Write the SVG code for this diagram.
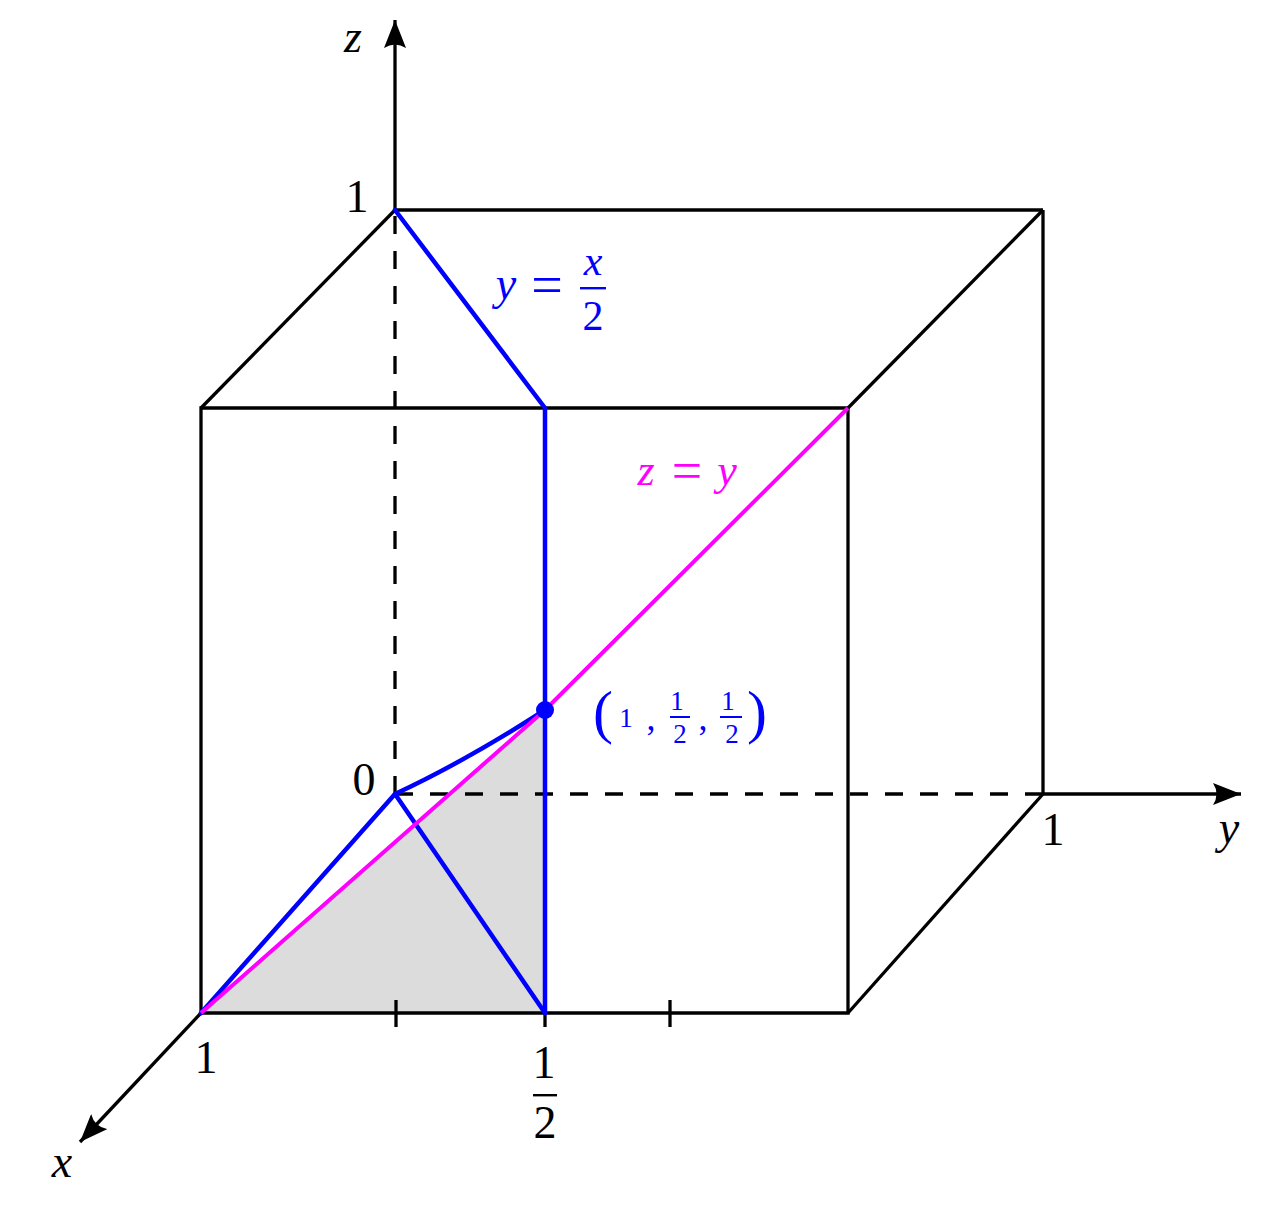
<svg xmlns="http://www.w3.org/2000/svg" width="1280" height="1229" viewBox="0 0 1280 1229">
<style>
.k{stroke:#000;stroke-width:3.3;fill:none;stroke-linecap:butt}
.d{stroke:#000;stroke-width:3.3;fill:none;stroke-dasharray:18 17}
.b{stroke:#0000ff;stroke-width:4.5;fill:none;stroke-linejoin:round;stroke-linecap:round}
.m{stroke:#ff00ff;stroke-width:4;fill:none;stroke-linejoin:round}
text{font-family:"Liberation Serif","DejaVu Serif",serif;text-anchor:middle}
.v{font-style:italic}
.t{font-size:46px;fill:#000}
.bl{fill:#0000ff}
.mg{fill:#ff00ff}
</style>
<defs>
<marker id="arr" markerUnits="userSpaceOnUse" viewBox="0 0 28 22" refX="28" refY="11" markerWidth="28" markerHeight="22" orient="auto">
<path d="M28 11 L0 0 Q7 11 0 22 Z" fill="#000"/>
</marker>
</defs>
<rect width="1280" height="1229" fill="#fff"/>
<g id="region">
<polygon points="201,1013 545,710 545,1013" fill="#dcdcdc"/>
</g>
<g id="axes">
<line class="d" x1="395" y1="794" x2="395" y2="212"/>
<line class="d" x1="395" y1="794" x2="1043" y2="794"/>
<line class="k" x1="395" y1="210" x2="395" y2="20" marker-end="url(#arr)"/>
<line class="k" x1="1043" y1="794" x2="1241" y2="794" marker-end="url(#arr)"/>
<line class="k" x1="201" y1="1013" x2="80" y2="1142" marker-end="url(#arr)"/>
</g>
<g id="cube">
<polyline class="k" points="201,1013 201,408 848,408 848,1013 201,1013"/>
<line class="k" x1="395" y1="210" x2="1043" y2="210"/>
<line class="k" x1="1043" y1="210" x2="1043" y2="794"/>
<line class="k" x1="395" y1="210" x2="201" y2="408"/>
<line class="k" x1="1043" y1="210" x2="848" y2="408"/>
<line class="k" x1="1043" y1="794" x2="848" y2="1013"/>
<line class="k" x1="396" y1="1000" x2="396" y2="1027"/>
<line class="k" x1="545" y1="1000" x2="545" y2="1027"/>
<line class="k" x1="670" y1="1000" x2="670" y2="1027"/>
</g>
<g id="connectors">
<polyline class="b" points="395,210 545,408 545,1013"/>
<polyline class="b" points="201,1013 395,794 545,1013"/>
<path class="b" d="M395 794 Q464 762 545 710"/>
<polyline class="m" points="201,1013 545,710 848,408"/>
<circle cx="545" cy="710" r="9" fill="#0000ff"/>
</g>
<g id="labels">
<text class="t v" x="353" y="52">z</text>
<text class="t" x="357" y="212">1</text>
<text class="t" x="364" y="795">0</text>
<text class="t" x="1053" y="845">1</text>
<text class="t v" x="1229" y="843">y</text>
<text class="t v" x="62" y="1177">x</text>
<text class="t" x="206" y="1073">1</text>
<text class="t" x="544" y="1078">1</text>
<rect x="533" y="1094" width="24" height="2.4" fill="#000"/>
<text class="t" x="545" y="1138">2</text>
</g>
<g id="label-yx2" class="bl">
<text class="v" font-size="46" x="506" y="299">y</text>
<text font-size="56" x="547" y="304">=</text>
<text class="v" font-size="42" x="593" y="275">x</text>
<rect x="580" y="287" width="26" height="2.4"/>
<text font-size="42" x="593" y="330">2</text>
</g>
<g id="label-zy" class="mg">
<text class="v" font-size="44" x="646" y="485">z</text>
<text font-size="54" x="687" y="489">=</text>
<text class="v" font-size="44" x="727" y="485">y</text>
</g>
<g id="label-point" class="bl">
<text font-size="60" x="603" y="732">(</text>
<text font-size="27" x="626" y="727">1</text>
<text font-size="36" x="651" y="730">,</text>
<text font-size="27" x="677" y="710">1</text>
<rect x="670" y="716" width="20" height="2"/>
<text font-size="27" x="680" y="743">2</text>
<text font-size="36" x="703" y="730">,</text>
<text font-size="27" x="728" y="710">1</text>
<rect x="720" y="716" width="22" height="2"/>
<text font-size="27" x="732" y="743">2</text>
<text font-size="60" x="757" y="732">)</text>
</g>
</svg>
